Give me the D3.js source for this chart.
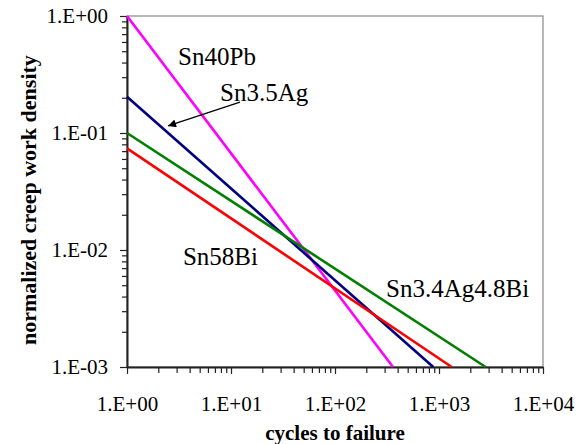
<!DOCTYPE html>
<html>
<head>
<meta charset="utf-8">
<script src="https://cdn.jsdelivr.net/npm/d3@7"></script>
<style>
  body { margin: 0; background: #fff; }
  svg text { font-family: "Liberation Serif", serif !important; }
</style>
</head>
<body>
<div id="chart"></div>
<script>
// alloys and the two ends of each fitted line (cycles, normalized work density)
const alloys = ["Sn40Pb", "Sn3.5Ag", "Sn58Bi", "Sn3.4Ag4.8Bi"];
const colors = ["#ff00ff", "#000080", "#ff0000", "#008000"];
const startCycles = [1, 1, 1, 1];
const startDensity = [1.0, 0.204, 0.074, 0.1];
const endCycles = [361, 881, 1325, 2810];
const endDensity = [0.001, 0.001, 0.001, 0.001];

// label anchors in data units
const labelX = [3.1, 7.84, 3.45, 310];
const labelY = [0.381, 0.188, 0.00745, 0.00397];

// arrow from the Sn3.5Ag label to its line
const arrowFrom = [12.2, 0.184];
const arrowTo = [2.48, 0.115];

const xMajor = [1, 10, 100, 1000, 10000];
const yMajor = [0.001, 0.01, 0.1, 1];

const serif = '"Liberation Serif", serif';

const margin = { top: 16, right: 35, bottom: 77, left: 127 };
const width = 578 - margin.left - margin.right;
const height = 444 - margin.top - margin.bottom;

const svg = d3
  .select("#chart")
  .append("svg")
  .attr("width", 578)
  .attr("height", 444)
  .attr("font-family", serif);

const g = svg
  .append("g")
  .attr("transform", `translate(${margin.left}, ${margin.top})`);

const x = d3.scaleLog().domain([1, 10000]).range([0, width]);
const y = d3.scaleLog().domain([0.001, 1]).range([height, 0]);

const fmt = (d) => {
  const e = Math.round(Math.log10(d));
  return "1.E" + (e < 0 ? "-" : "+") + String(Math.abs(e)).padStart(2, "0");
};

const minors = (majors) =>
  majors.slice(0, -1).flatMap((m) => d3.range(2, 10).map((k) => m * k));

// frame (top/right grey)
g.append("rect")
  .attr("width", width)
  .attr("height", height)
  .attr("fill", "none")
  .attr("stroke", "#888")
  .attr("stroke-width", 1.2);

// minor ticks
g.append("g")
  .attr("transform", `translate(0, ${height})`)
  .call(d3.axisBottom(x).tickValues(minors(xMajor)).tickSize(6).tickFormat(""))
  .call((a) => a.select(".domain").remove());
g.append("g")
  .call(d3.axisLeft(y).tickValues(minors(yMajor)).tickSize(5).tickFormat(""))
  .call((a) => a.select(".domain").remove());

// major axes
const xAxis = g
  .append("g")
  .attr("transform", `translate(0, ${height})`)
  .call(d3.axisBottom(x).tickValues(xMajor).tickSize(7).tickSizeOuter(0).tickPadding(22).tickFormat(fmt));
const yAxis = g
  .append("g")
  .call(d3.axisLeft(y).tickValues(yMajor).tickSize(7).tickSizeOuter(0).tickPadding(12).tickFormat(fmt));

g.selectAll("g").attr("font-family", serif);

[xAxis, yAxis].forEach((a) => {
  a.selectAll("text")
    .style("font-size", "21px")
    .attr("fill", "#000");
  a.select(".domain").attr("stroke", "#222").attr("stroke-width", 2);
});
g.selectAll(".tick line").attr("stroke", "#222").attr("stroke-width", 1.2);

// lines
const line = d3
  .line()
  .x((d) => x(d[0]))
  .y((d) => y(d[1]));

alloys.forEach((name, i) => {
  g.append("path")
    .datum([
      [startCycles[i], startDensity[i]],
      [endCycles[i], endDensity[i]]
    ])
    .attr("d", line)
    .attr("fill", "none")
    .attr("stroke", colors[i])
    .attr("stroke-width", 2.6);
});

// labels
alloys.forEach((name, i) => {
  g.append("text")
    .attr("x", x(labelX[i]))
    .attr("y", y(labelY[i]))
    .style("font-size", "25px")
    .text(name);
});

// arrow
const defs = svg.append("defs");
defs
  .append("marker")
  .attr("id", "head")
  .attr("viewBox", "0 0 10 10")
  .attr("refX", 10)
  .attr("refY", 5)
  .attr("markerWidth", 10)
  .attr("markerHeight", 8)
  .attr("markerUnits", "userSpaceOnUse")
  .attr("orient", "auto")
  .append("path")
  .attr("d", "M0,0 L10,5 L0,10 z")
  .attr("fill", "#000");

g.append("line")
  .attr("x1", x(arrowFrom[0]))
  .attr("y1", y(arrowFrom[1]))
  .attr("x2", x(arrowTo[0]))
  .attr("y2", y(arrowTo[1]))
  .attr("stroke", "#000")
  .attr("stroke-width", 1.3)
  .attr("marker-end", "url(#head)");

// axis titles
svg
  .append("text")
  .attr("x", margin.left + width / 2)
  .attr("y", 440)
  .attr("text-anchor", "middle")
  .style("font-size", "21px")
  .style("font-weight", "bold")
  .text("cycles to failure");

defs
  .append("clipPath")
  .attr("id", "ytitle-clip")
  .append("rect")
  .attr("x", 0)
  .attr("y", 50)
  .attr("width", 60)
  .attr("height", 400);

svg
  .append("g")
  .attr("clip-path", "url(#ytitle-clip)")
  .append("text")
  .attr("transform", "translate(36, 345) rotate(-90)")
  .style("font-size", "22px")
  .style("font-weight", "bold")
  .text("normalized creep work density");
</script>
</body>
</html>
